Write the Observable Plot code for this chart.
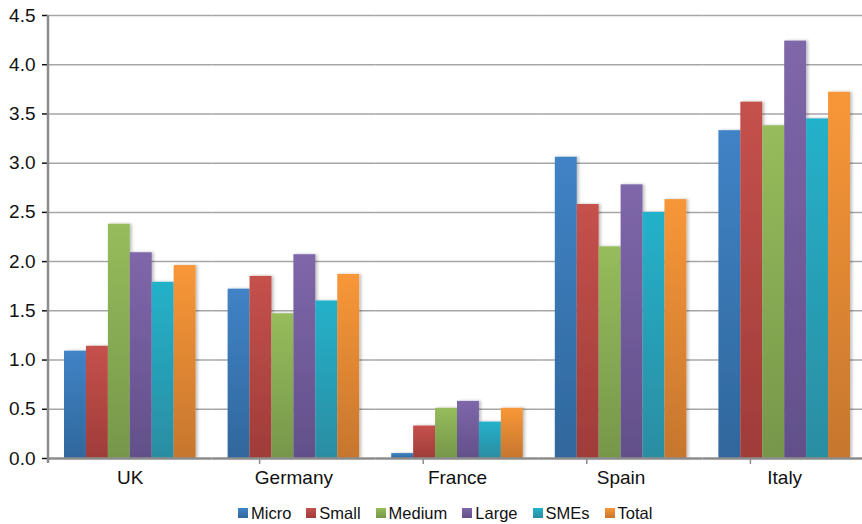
<!DOCTYPE html>
<html><head><meta charset="utf-8">
<script src="https://cdn.jsdelivr.net/npm/d3@7"></script>
<script src="https://cdn.jsdelivr.net/npm/@observablehq/plot@0.6"></script>
<style>
body{margin:0;overflow:hidden;background:#fff;font-family:"Liberation Sans",Arial,sans-serif;}
#chart{position:relative;width:862px;height:524px;}
#chart svg text{font-size:19px;fill:#111;}
#legend{position:absolute;left:238px;top:503px;display:flex;align-items:center;font-size:16.5px;color:#111;line-height:20px;white-space:nowrap;}
#legend .it{display:flex;align-items:center;margin-right:15px;}
#legend .sw{width:10px;height:10px;margin-right:3px;}
</style>
</head><body><div id="chart"></div>
<script>
const countries = ["UK","Germany","France","Spain","Italy"];
const series = ["Micro","Small","Medium","Large","SMEs","Total"];
const micro  = [1.09, 1.72, 0.05, 3.06, 3.33];
const small  = [1.14, 1.85, 0.33, 2.58, 3.62];
const medium = [2.38, 1.47, 0.51, 2.15, 3.38];
const large  = [2.09, 2.07, 0.58, 2.78, 4.24];
const smes   = [1.79, 1.60, 0.37, 2.50, 3.45];
const total  = [1.96, 1.87, 0.51, 2.63, 3.72];
const yTicks = [0, 0.5, 1, 1.5, 2, 2.5, 3, 3.5, 4, 4.5];
const colorsTop = ["#4083c6","#c5514c","#96bc5c","#7f67aa","#24b1ca","#f89738"];
const colorsBot = ["#30679c","#9f3c39","#76974a","#62508a","#2b8da2","#c6762e"];

const valuesBySeries = [micro, small, medium, large, smes, total];
const data = [];
series.forEach((s, i) => countries.forEach((c, j) => data.push({country: c, series: s, value: valuesBySeries[i][j]})));

const barMarks = series.map((s, i) => Plot.barY(data.filter(d => d.series === s), {
  fx: "country", x: "series", y: "value", fill: `url(#grad${i})`
}));

const plot = Plot.plot({
  width: 862, height: 497,
  marginTop: 15, marginBottom: 39, marginLeft: 48, marginRight: -4,
  style: {fontFamily: '"Liberation Sans", Arial, sans-serif', fontSize: "19px", color: "#111", overflow: "visible"},
  fx: {domain: countries, padding: 0, round: false, label: null, axis: "bottom", tickSize: 0, tickPadding: 12},
  x: {domain: series, paddingInner: 0, paddingOuter: 0.73, round: false, axis: null},
  y: {domain: [0, 4.5], ticks: yTicks, tickFormat: d3.format(".1f"), label: null, tickSize: 6, tickPadding: 7},
  marks: [
    Plot.ruleY(yTicks.slice(1), {stroke: "#a6a6a6", strokeWidth: 1.5}),
    ...barMarks,
    Plot.ruleY([0], {stroke: "#8c8c8c", strokeWidth: 2.5})
  ]
});

const svg = d3.select(plot);
const defs = svg.insert("defs", ":first-child");
series.forEach((s, i) => {
  const g = defs.append("linearGradient").attr("id", `grad${i}`).attr("x1", 0).attr("y1", 0).attr("x2", 0).attr("y2", 1);
  g.append("stop").attr("offset", "0%").attr("stop-color", colorsTop[i]);
  g.append("stop").attr("offset", "100%").attr("stop-color", colorsBot[i]);
});
const f = defs.append("filter").attr("id", "shadow").attr("x", "-20%").attr("y", "-5%").attr("width", "150%").attr("height", "110%");
f.append("feDropShadow").attr("dx", 2).attr("dy", 0).attr("stdDeviation", 1.5).attr("flood-color", "#000").attr("flood-opacity", 0.25);
svg.selectAll("rect").attr("filter", "url(#shadow)");

const yS = plot.scale("y"), fxS = plot.scale("fx");
const y0 = yS.apply(0), yTop = yS.apply(4.5);
svg.selectAll('[aria-label^="y-axis tick"]:not([aria-label*="label"])').attr("stroke", "#8c8c8c").attr("stroke-width", 1.5);
svg.append("line").attr("x1", 48).attr("x2", 48).attr("y1", yTop).attr("y2", y0 + 5).attr("stroke", "#8c8c8c").attr("stroke-width", 2.5);
const left = 48;
countries.slice(1).forEach(c => {
  const x = left + fxS.apply(c);
  svg.append("line").attr("x1", x).attr("x2", x).attr("y1", y0).attr("y2", y0 + 6).attr("stroke", "#8c8c8c").attr("stroke-width", 1.5);
});

const chart = document.getElementById("chart");
chart.appendChild(plot);
const legend = document.createElement("div");
legend.id = "legend";
series.forEach((s, i) => {
  const it = document.createElement("div"); it.className = "it";
  it.innerHTML = `<span class="sw" style="background:linear-gradient(${colorsTop[i]},${colorsBot[i]})"></span><span>${s}</span>`;
  legend.appendChild(it);
});
chart.appendChild(legend);
</script>
</body></html>
